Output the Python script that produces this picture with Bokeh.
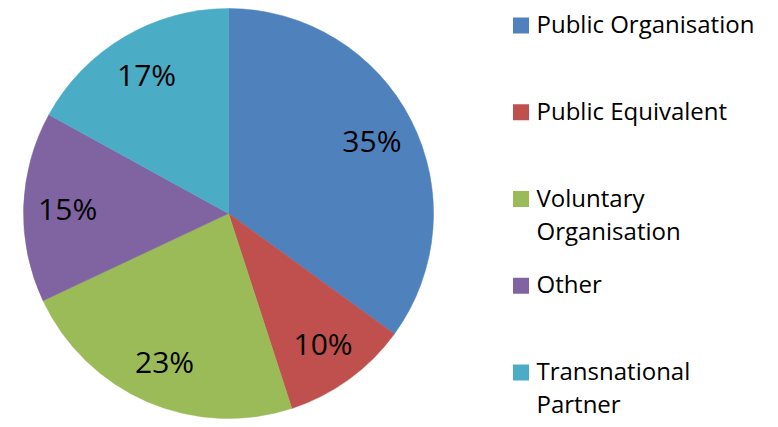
import math
from bokeh.plotting import figure
from bokeh.models import ColumnDataSource, Range1d
from bokeh.core.properties import value
from bokeh.embed import file_html
from bokeh.resources import INLINE

# ---- data ----
categories = ["Public Organisation", "Public Equivalent", "Voluntary\nOrganisation",
              "Other", "Transnational\nPartner"]
shares = [35, 10, 23, 15, 17]
labels = ["35%", "10%", "23%", "15%", "17%"]
colors = ["#4F81BD", "#C0504D", "#9BBB59", "#8064A2", "#4BACC6"]

W, H = 770, 419
p = figure(width=W, height=H, output_backend="svg", toolbar_location=None,
           x_range=Range1d(0, W), y_range=Range1d(0, H), min_border=0)
p.axis.visible = False
p.grid.visible = False
p.outline_line_color = None
p.background_fill_color = "white"

cx, cy, R = 228, H - 213, 205
total = float(sum(shares))
starts, ends, lx, ly = [], [], [], []
acc = 0.0
for v in shares:
    a0 = math.pi / 2 - 2 * math.pi * acc / total
    a1 = math.pi / 2 - 2 * math.pi * (acc + v) / total
    starts.append(a0)
    ends.append(a1)
    mid = (a0 + a1) / 2
    lx.append(cx + 0.785 * R * math.cos(mid))
    ly.append(cy + 0.785 * R * math.sin(mid))
    acc += v

src = ColumnDataSource(dict(x=[cx] * len(shares), y=[cy] * len(shares),
                            start=starts, end=ends, color=colors,
                            lx=lx, ly=ly, label=labels))
p.wedge(x="x", y="y", radius=R, radius_units="screen", start_angle="start",
        end_angle="end", direction="clock", fill_color="color",
        line_color="color", line_width=0.5, source=src)
p.text(x="lx", y="ly", text="label", source=src, text_align="center",
       text_baseline="middle", text_font=value("Open Sans"),
       text_font_size="30px", text_color="#000000")

# ---- legend drawn manually ----
sq_x, txt_x = 520.5, 536
row0, step, line_gap = H - 25, 86.75, 33
sx, sy, sc, tx, ty, tt = [], [], [], [], [], []
for i, cat in enumerate(categories):
    yrow = row0 - i * step
    sx.append(sq_x); sy.append(yrow); sc.append(colors[i])
    for j, line in enumerate(cat.split("\n")):
        tx.append(txt_x); ty.append(yrow + 2 - j * line_gap); tt.append(line)

p.rect(x=sx, y=sy, width=16, height=16, width_units="screen",
       height_units="screen", fill_color=sc, line_color=None)
p.text(x=tx, y=ty, text=tt, text_align="left", text_baseline="middle",
       text_font=value("Open Sans"), text_font_size="24px",
       text_color="#000000")

open("out.html", "w").write(file_html(p, INLINE))
